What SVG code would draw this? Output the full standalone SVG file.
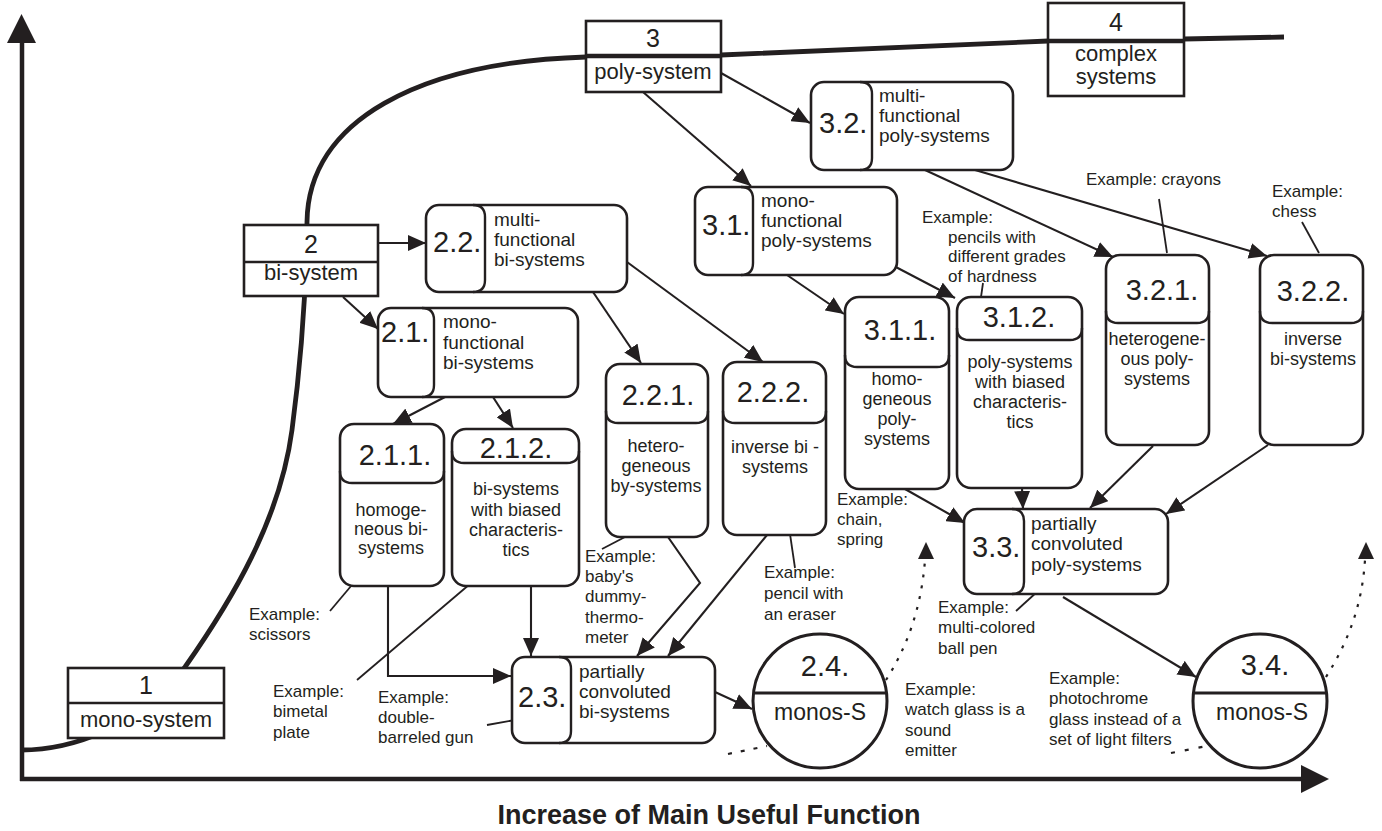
<svg xmlns="http://www.w3.org/2000/svg" width="1382" height="831" viewBox="0 0 1382 831">
<style>
text{font-family:"Liberation Sans",Arial,Helvetica,sans-serif;fill:#231f20}
.n{fill:#fff;stroke:#231f20;stroke-width:2.6}
.d{fill:none;stroke:#231f20;stroke-width:2.4}
.c{fill:none;stroke:#231f20;stroke-width:2.1;marker-end:url(#a)}
.l{fill:none;stroke:#231f20;stroke-width:1.8}
.dot{fill:none;stroke:#231f20;stroke-width:2.2;stroke-dasharray:3 8}
.num{font-size:29px}
.big{font-size:25px;text-anchor:middle}
.lab{font-size:22px;text-anchor:middle}
.b{font-size:19px}
.bm{font-size:18px;text-anchor:middle}
.ex{font-size:17px}
.ms{font-size:23px;text-anchor:middle}
</style>
<defs>
<marker id="a" markerUnits="userSpaceOnUse" markerWidth="18" markerHeight="16" refX="18" refY="8" orient="auto">
<path d="M0,0 L18,8 L0,16 Z" fill="#231f20"/>
</marker>
</defs>

<g id="axes">
<line x1="22" y1="781" x2="22" y2="40" stroke="#231f20" stroke-width="4.5"/>
<polygon points="21.5,14 7,43 36,43" fill="#231f20"/>
<line x1="20" y1="779" x2="1304" y2="779" stroke="#231f20" stroke-width="4.5"/>
<polygon points="1329,779 1301,765 1301,793" fill="#231f20"/>
<text x="709" y="824" font-size="27" font-weight="bold" text-anchor="middle">Increase of Main Useful Function</text>
</g>

<g id="curve">
<path d="M21,750 C70,750 140,728 185,667 C232,600 280,520 292,430 C300,370 306,300 307,222 C308,120 420,62 586,57 L721,55 L1048,41 L1184,39 L1284,37" fill="none" stroke="#231f20" stroke-width="4.8"/>
</g>

<g id="connectors">
<path class="c" d="M378,243 L426,243"/>
<path class="c" d="M343,297 L378,329"/>
<path class="c" d="M593,292 L641,363"/>
<path class="c" d="M627,262 L763,362"/>
<path class="c" d="M445,397 L393,424"/>
<path class="c" d="M493,397 L513,428"/>
<path class="c" d="M388,586 V676 H511"/>
<path class="c" d="M531,586 V656"/>
<path class="c" d="M668,537 L700,583 L637,656"/>
<path class="c" d="M767,535 L668,656"/>
<path class="c" d="M715,692 L752,709"/>
<path class="c" d="M721,73 L810,123"/>
<path class="c" d="M643,92 L751,186"/>
<path class="c" d="M787,275 L844,314"/>
<path class="c" d="M892,265 L955,298"/>
<path class="c" d="M925,170 L1113,257"/>
<path class="c" d="M975,170 L1267,256"/>
<path class="c" d="M905,489 L965,523"/>
<path class="c" d="M1022,488 L1023,509"/>
<path class="c" d="M1153,446 L1090,508"/>
<path class="c" d="M1268,445 L1166,514"/>
<path class="c" d="M1063,597 L1196,677"/>
<path class="dot" d="M886,680 C905,650 921,612 925,560"/>
<polygon points="926,542 918,559 934,559" fill="#231f20"/>
<path class="dot" d="M1326,677 C1348,642 1362,606 1365,560"/>
<polygon points="1366,542 1358,559 1374,559" fill="#231f20"/>
<path class="dot" d="M728,754 L767,746" style="stroke-dasharray:4 9"/>
<path class="dot" d="M1171,753 L1207,746" style="stroke-dasharray:4 10"/>
<path class="l" d="M1159,199 L1167,253"/>
<path class="l" d="M1302,222 L1319,253"/>
<path class="l" d="M983,283 L980,304"/>
<path class="l" d="M848,483 L866,472"/>
<path class="l" d="M625,537 L602,549"/>
<path class="l" d="M790,534 L795,568"/>
<path class="l" d="M362,573 L330,611"/>
<path class="l" d="M357,680 L477,578"/>
<path class="l" d="M487,725 L532,717"/>
<path class="l" d="M1016,611 L1038,591"/>
</g>

<g id="n1">
<rect class="n" x="68" y="668" width="156" height="70"/>
<line class="d" x1="68" y1="703" x2="224" y2="703"/>
<text class="big" x="146" y="694">1</text>
<text class="lab" x="146" y="727" font-size="21">mono-system</text>
</g>
<g id="n2">
<rect class="n" x="244" y="225" width="134" height="71"/>
<line class="d" x1="244" y1="262" x2="378" y2="262"/>
<text class="big" x="311" y="253">2</text>
<text class="lab" x="311" y="280">bi-system</text>
</g>
<g id="n3">
<rect class="n" x="586" y="21" width="135" height="71"/>
<line x1="586" y1="56" x2="721" y2="56" stroke="#231f20" stroke-width="4.5"/>
<text class="big" x="653" y="47">3</text>
<text class="lab" x="653" y="79">poly-system</text>
</g>
<g id="n4">
<rect class="n" x="1048" y="3" width="136" height="93"/>
<line x1="1048" y1="41" x2="1184" y2="41" stroke="#231f20" stroke-width="4.5"/>
<text class="big" x="1116" y="31">4</text>
<text class="lab" x="1116" y="61" font-size="23">complex</text>
<text class="lab" x="1116" y="84" font-size="23">systems</text>
</g>

<g id="n2-2">
<rect class="n" x="426" y="205" width="201" height="87" rx="13"/>
<path class="d" d="M473,205 Q485,205 485,217 V280 Q485,292 473,292"/>
<text class="num" x="433" y="252">2.2.</text>
<text class="b" x="494"><tspan x="494" y="226">multi-</tspan><tspan x="494" y="246">functional</tspan><tspan x="494" y="266">bi-systems</tspan></text>
</g>
<g id="n2-1">
<rect class="n" x="378" y="308" width="200" height="89" rx="13"/>
<path class="d" d="M422,308 Q434,308 434,320 V385 Q434,397 422,397"/>
<text class="num" x="381" y="342">2.1.</text>
<text class="b" x="443"><tspan x="443" y="328">mono-</tspan><tspan x="443" y="349">functional</tspan><tspan x="443" y="369">bi-systems</tspan></text>
</g>
<g id="n3-2">
<rect class="n" x="811" y="82" width="202" height="88" rx="13"/>
<path class="d" d="M860,82 Q872,82 872,94 V158 Q872,170 860,170"/>
<text class="num" x="819" y="133">3.2.</text>
<text class="b" x="879"><tspan x="879" y="102">multi-</tspan><tspan x="879" y="122">functional</tspan><tspan x="879" y="142">poly-systems</tspan></text>
</g>
<g id="n3-1">
<rect class="n" x="695" y="187" width="202" height="88" rx="13"/>
<path class="d" d="M741,187 Q753,187 753,199 V263 Q753,275 741,275"/>
<text class="num" x="702" y="235">3.1.</text>
<text class="b" x="761"><tspan x="761" y="207">mono-</tspan><tspan x="761" y="227">functional</tspan><tspan x="761" y="247">poly-systems</tspan></text>
</g>
<g id="n3-3">
<rect class="n" x="964" y="509" width="204" height="85" rx="13"/>
<path class="d" d="M1012,509 Q1024,509 1024,521 V582 Q1024,594 1012,594"/>
<text class="num" x="972" y="557">3.3.</text>
<text class="b" x="1031"><tspan x="1031" y="530">partially</tspan><tspan x="1031" y="550">convoluted</tspan><tspan x="1031" y="571">poly-systems</tspan></text>
</g>
<g id="n2-3">
<rect class="n" x="512" y="657" width="203" height="86" rx="13"/>
<path class="d" d="M559,657 Q571,657 571,669 V731 Q571,743 559,743"/>
<text class="num" x="518" y="707">2.3.</text>
<text class="b" x="579"><tspan x="579" y="678">partially</tspan><tspan x="579" y="698">convoluted</tspan><tspan x="579" y="718">bi-systems</tspan></text>
</g>

<g id="n2-1-1">
<rect class="n" x="340" y="424" width="104" height="162" rx="14"/>
<path class="d" d="M340,471 Q340,483 352,483 H432 Q444,483 444,471"/>
<text class="num" x="395" y="465" text-anchor="middle">2.1.1.</text>
<text class="bm" x="391"><tspan x="391" y="516">homoge-</tspan><tspan x="391" y="535">neous bi-</tspan><tspan x="391" y="554">systems</tspan></text>
</g>
<g id="n2-1-2">
<rect class="n" x="452" y="429" width="127" height="157" rx="14"/>
<path class="d" d="M452,451 Q452,463 464,463 H567 Q579,463 579,451"/>
<text class="num" x="516" y="458" text-anchor="middle">2.1.2.</text>
<text class="bm" x="516"><tspan x="516" y="495">bi-systems</tspan><tspan x="516" y="516">with biased</tspan><tspan x="516" y="536">characteris-</tspan><tspan x="516" y="556">tics</tspan></text>
</g>
<g id="n2-2-1">
<rect class="n" x="606" y="364" width="102" height="173" rx="14"/>
<path class="d" d="M606,411 Q606,423 618,423 H696 Q708,423 708,411"/>
<text class="num" x="658" y="405" text-anchor="middle">2.2.1.</text>
<text class="bm" x="656" font-size="17"><tspan x="656" y="452">hetero-</tspan><tspan x="656" y="472">geneous</tspan><tspan x="656" y="492">by-systems</tspan></text>
</g>
<g id="n2-2-2">
<rect class="n" x="723" y="362" width="103" height="173" rx="14"/>
<path class="d" d="M723,411 Q723,423 735,423 H814 Q826,423 826,411"/>
<text class="num" x="773" y="402" text-anchor="middle">2.2.2.</text>
<text class="bm" x="775"><tspan x="775" y="453">inverse bi -</tspan><tspan x="775" y="473">systems</tspan></text>
</g>
<g id="n3-1-1">
<rect class="n" x="845" y="297" width="104" height="192" rx="14"/>
<path class="d" d="M845,355 Q845,367 857,367 H937 Q949,367 949,355"/>
<text class="num" x="900" y="340" text-anchor="middle">3.1.1.</text>
<text class="bm" x="897" font-size="19"><tspan x="897" y="385">homo-</tspan><tspan x="897" y="405">geneous</tspan><tspan x="897" y="425">poly-</tspan><tspan x="897" y="445">systems</tspan></text>
</g>
<g id="n3-1-2">
<rect class="n" x="957" y="297" width="125" height="191" rx="14"/>
<path class="d" d="M957,328 Q957,340 969,340 H1070 Q1082,340 1082,328"/>
<text class="num" x="1019" y="327" text-anchor="middle">3.1.2.</text>
<text class="bm" x="1020" font-size="19"><tspan x="1020" y="368">poly-systems</tspan><tspan x="1020" y="388">with biased</tspan><tspan x="1020" y="408">characteris-</tspan><tspan x="1020" y="428">tics</tspan></text>
</g>
<g id="n3-2-1">
<rect class="n" x="1106" y="255" width="103" height="190" rx="14"/>
<path class="d" d="M1106,311 Q1106,323 1118,323 H1197 Q1209,323 1209,311"/>
<text class="num" x="1162" y="300" text-anchor="middle">3.2.1.</text>
<text class="bm" x="1157" font-size="19"><tspan x="1157" y="345">heterogene-</tspan><tspan x="1157" y="365">ous poly-</tspan><tspan x="1157" y="385">systems</tspan></text>
</g>
<g id="n3-2-2">
<rect class="n" x="1260" y="255" width="103" height="190" rx="14"/>
<path class="d" d="M1260,311 Q1260,323 1272,323 H1351 Q1363,323 1363,311"/>
<text class="num" x="1313" y="301" text-anchor="middle">3.2.2.</text>
<text class="bm" x="1313" font-size="19"><tspan x="1313" y="345">inverse</tspan><tspan x="1313" y="365">bi-systems</tspan></text>
</g>

<g id="n2-4">
<circle cx="820" cy="701" r="67" fill="#fff" stroke="#231f20" stroke-width="3"/>
<line x1="754" y1="693" x2="886" y2="693" stroke="#231f20" stroke-width="3"/>
<text class="num" x="825" y="676" text-anchor="middle">2.4.</text>
<text class="ms" x="820" y="720">monos-S</text>
</g>
<g id="n3-4">
<circle cx="1260" cy="701" r="67" fill="#fff" stroke="#231f20" stroke-width="3"/>
<line x1="1194" y1="693" x2="1326" y2="693" stroke="#231f20" stroke-width="3"/>
<text class="num" x="1265" y="675" text-anchor="middle">3.4.</text>
<text class="ms" x="1262" y="720">monos-S</text>
</g>

<g id="examples">
<text class="ex" x="1086" y="185">Example: crayons</text>
<text class="ex"><tspan x="1272" y="197">Example:</tspan><tspan x="1272" y="217">chess</tspan></text>
<text class="ex"><tspan x="922" y="223">Example:</tspan><tspan x="948" y="243">pencils with</tspan><tspan x="948" y="262">different grades</tspan><tspan x="948" y="282">of hardness</tspan></text>
<text class="ex"><tspan x="837" y="505">Example:</tspan><tspan x="837" y="525">chain,</tspan><tspan x="837" y="545">spring</tspan></text>
<text class="ex"><tspan x="585" y="562">Example:</tspan><tspan x="585" y="582">baby's</tspan><tspan x="585" y="602">dummy-</tspan><tspan x="585" y="623">thermo-</tspan><tspan x="585" y="643">meter</tspan></text>
<text class="ex"><tspan x="764" y="578">Example:</tspan><tspan x="764" y="599">pencil with</tspan><tspan x="764" y="620">an eraser</tspan></text>
<text class="ex"><tspan x="249" y="620">Example:</tspan><tspan x="249" y="640">scissors</tspan></text>
<text class="ex"><tspan x="273" y="697">Example:</tspan><tspan x="273" y="717">bimetal</tspan><tspan x="273" y="738">plate</tspan></text>
<text class="ex"><tspan x="378" y="703">Example:</tspan><tspan x="378" y="723">double-</tspan><tspan x="378" y="743">barreled gun</tspan></text>
<text class="ex"><tspan x="938" y="613">Example:</tspan><tspan x="938" y="633">multi-colored</tspan><tspan x="938" y="654">ball pen</tspan></text>
<text class="ex"><tspan x="905" y="695">Example:</tspan><tspan x="905" y="715">watch glass is a</tspan><tspan x="905" y="736">sound</tspan><tspan x="905" y="756">emitter</tspan></text>
<text class="ex"><tspan x="1049" y="684">Example:</tspan><tspan x="1049" y="704">photochrome</tspan><tspan x="1049" y="725">glass instead of a</tspan><tspan x="1049" y="745">set of light filters</tspan></text>
</g>
</svg>
